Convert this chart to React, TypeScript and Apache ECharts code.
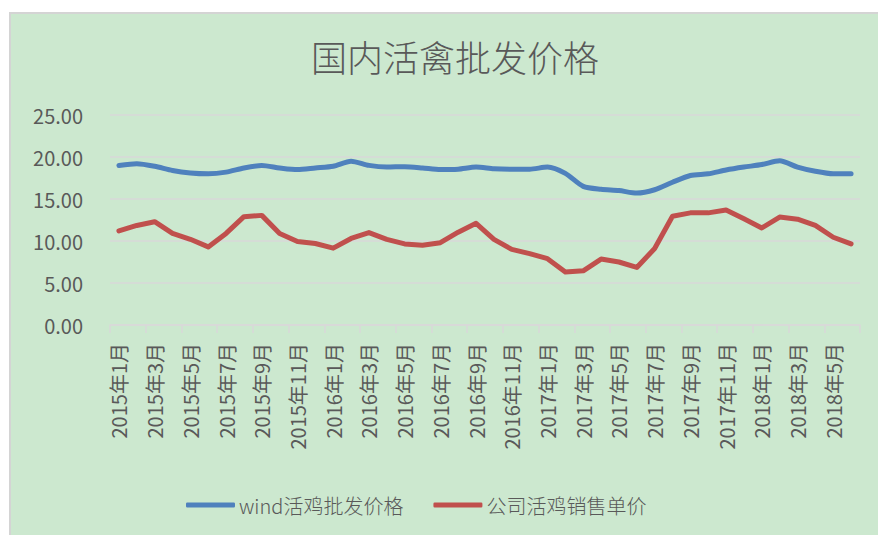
import React, { useEffect, useRef } from "react";
import * as echarts from "echarts";

const years = [2015, 2016, 2017, 2018];
const categories: string[] = [];
for (const y of years) {
  for (let m = 1; m <= 12; m++) {
    if (y === 2018 && m > 6) break;
    categories.push(`${y}年${m}月`);
  }
}

const windPrice = [
  19.0, 19.2, 18.9, 18.4, 18.1, 18.0, 18.2, 18.7, 19.0, 18.7, 18.5, 18.7, 18.9, 19.5,
  19.0, 18.8, 18.85, 18.7, 18.5, 18.55, 18.8, 18.6, 18.55, 18.55, 18.8, 18.05, 16.5, 16.15,
  16.0, 15.7, 16.1, 17.0, 17.8, 18.0, 18.45, 18.8, 19.1, 19.55, 18.8, 18.3, 18.0, 18.0,
];

const companyPrice = [
  11.2, 11.85, 12.3, 10.9, 10.2, 9.3, 10.9, 12.9, 13.05, 10.9, 9.95, 9.7, 9.15, 10.3,
  11.0, 10.2, 9.65, 9.5, 9.8, 11.05, 12.1, 10.2, 9.0, 8.5, 7.9, 6.3, 6.45, 7.85,
  7.5, 6.85, 9.1, 12.95, 13.35, 13.35, 13.7, 12.65, 11.55, 12.85, 12.6, 11.85, 10.45, 9.65,
];

const seriesNames = ["wind活鸡批发价格", "公司活鸡销售单价"];
const titleText = "国内活禽批发价格";

const FONT = "'Noto Sans CJK SC', 'Noto Sans', sans-serif";
const TEXT_COLOR = "#595959";

export default function App() {
  const ref = useRef<HTMLDivElement>(null);
  useEffect(() => {
    if (!ref.current) return;
    const chart = echarts.init(ref.current, null, { renderer: "svg" });
    chart.setOption({
      animation: false,
      backgroundColor: "transparent",
      textStyle: { fontFamily: FONT },
      title: {
        text: titleText,
        left: 450,
        textAlign: "center",
        top: 33,
        textStyle: { fontSize: 36, fontWeight: 300, color: TEXT_COLOR, fontFamily: FONT },
      },
      legend: {
        left: 181,
        top: 490,
        itemWidth: 49,
        itemHeight: 5,
        itemGap: 30,
        icon: "roundRect",
        textStyle: { fontSize: 20, fontWeight: 300, color: TEXT_COLOR, fontFamily: FONT, padding: [0, 0, 0, -1] },
        data: seriesNames,
      },
      grid: { left: 110, right: 18, top: 115, bottom: 210, containLabel: false },
      xAxis: {
        type: "category",
        data: categories,
        boundaryGap: true,
        axisLine: { show: true, lineStyle: { color: "#d9d9d9", width: 1.5 } },
        axisTick: { show: true, interval: 1, length: 8, lineStyle: { color: "#d9d9d9", width: 1.5 } },
        axisLabel: {
          interval: 1,
          rotate: 90,
          margin: 18,
          fontSize: 20,
          color: TEXT_COLOR,
          fontFamily: FONT,
        },
        splitLine: { show: false },
      },
      yAxis: {
        type: "value",
        min: 0,
        max: 25,
        interval: 5,
        axisLine: { show: false },
        axisTick: { show: false },
        axisLabel: {
          margin: 27,
          fontSize: 20,
          color: TEXT_COLOR,
          fontFamily: FONT,
          formatter: (v: number) => v.toFixed(2),
        },
        splitLine: { show: true, lineStyle: { color: "#d9d9d9", width: 1.5 } },
      },
      series: [
        {
          name: seriesNames[0],
          type: "line",
          data: windPrice,
          symbol: "none",
          smooth: 0.25,
          lineStyle: { color: "#4f81bd", width: 5, cap: "round", join: "round" },
          itemStyle: { color: "#4f81bd" },
        },
        {
          name: seriesNames[1],
          type: "line",
          data: companyPrice,
          symbol: "none",
          lineStyle: { color: "#c0504d", width: 5, cap: "round", join: "round" },
          itemStyle: { color: "#c0504d" },
        },
      ],
    });
    return () => chart.dispose();
  }, []);

  return (
    <div style={{ position: "fixed", left: 0, top: 0, width: 878, height: 535, background: "#ffffff" }}>
      <div
        style={{
          position: "absolute",
          left: 9,
          top: 12,
          width: 869,
          height: 523,
          boxSizing: "border-box",
          background: "#cce8cf",
          borderLeft: "2px solid #d4d4d4",
          borderTop: "2px solid #d4d4d4",
        }}
      />
      <div ref={ref} style={{ position: "absolute", left: 0, top: 0, width: 878, height: 535 }} />
    </div>
  );
}
